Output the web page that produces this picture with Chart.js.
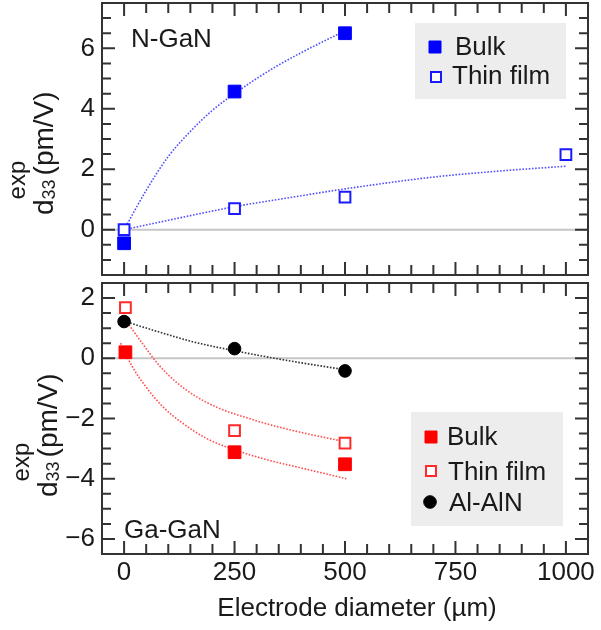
<!DOCTYPE html>
<html>
<head>
<meta charset="utf-8">
<script src="https://cdn.jsdelivr.net/npm/chart.js@4.4.1/dist/chart.umd.min.js"></script>
<style>
  body { margin: 0; background: #fff; }
  #wrap { position: relative; width: 601px; height: 630px; overflow: hidden; }
  #topChart { position: absolute; left: 0; top: 0; }
  #bottomChart { position: absolute; left: 0; top: 280px; }
</style>
</head>
<body>
<div id="wrap">
  <canvas id="topChart" width="601" height="280"></canvas>
  <canvas id="bottomChart" width="601" height="350"></canvas>
</div>
<script>
// axis ticks
const xTickLabels = [0, 250, 500, 750, 1000];
const nganYTicks = [0, 2, 4, 6];
const gaganYTicks = [-6, -4, -2, 0, 2];

// N-GaN (top panel)
const nganBulkX = [0, 250, 500];
const nganBulkY = [-0.45, 4.57, 6.5];
const nganFilmX = [0, 250, 500, 1000];
const nganFilmY = [0, 0.7, 1.08, 2.48];
const nganBulkFitX = [0, 50, 100, 150, 200, 250, 300, 350, 400, 450, 500];
const nganBulkFitY = [0, 1.3, 2.42, 3.25, 3.95, 4.5, 5.0, 5.45, 5.85, 6.22, 6.58];
const nganFilmFitX = [0, 100, 250, 400, 500, 700, 850, 1000];
const nganFilmFitY = [0, 0.31, 0.76, 1.12, 1.35, 1.74, 1.94, 2.1];

// Ga-GaN / Al-AlN (bottom panel)
const gaganBulkX = [3, 250, 500];
const gaganBulkY = [0.2, -3.12, -3.52];
const gaganFilmX = [3, 250, 500];
const gaganFilmY = [1.68, -2.4, -2.82];
const alnX = [0, 250, 500];
const alnY = [1.22, 0.32, -0.42];
const gaganBulkFitX = [-8, 19, 49, 87, 132, 185, 238, 321, 397, 503];
const gaganBulkFitY = [0.5, -0.29, -0.94, -1.6, -2.15, -2.65, -2.98, -3.36, -3.63, -4.0];
const gaganFilmFitX = [7, 42, 79, 117, 163, 215, 283, 321, 397, 503];
const gaganFilmFitY = [1.2, 0.48, -0.23, -0.78, -1.27, -1.66, -2.0, -2.17, -2.45, -2.78];
const alnFitX = [0, 80, 155, 250, 380, 500];
const alnFitY = [1.23, 0.87, 0.55, 0.25, -0.1, -0.38];

const FONT = "'Liberation Sans', Arial, Helvetica, sans-serif";
const INK = "#1a1a1a";

Chart.defaults.font.family = FONT;
Chart.defaults.color = INK;

function pairs(xs, ys) {
  return xs.map((x, i) => ({ x: x, y: ys[i] }));
}

function minusSign(v) {
  return String(v).replace("-", "\u2212");
}

function markerSet(label, xs, ys, style) {
  return {
    label: label,
    data: pairs(xs, ys),
    showLine: false,
    pointBorderWidth: style.open ? 2 : 1,
    pointBackgroundColor: style.open ? "#ffffff" : style.color,
    pointBorderColor: style.color,
    pointStyle: style.shape,
    pointRadius: style.radius
  };
}

function fitSet(xs, ys, color) {
  return {
    data: pairs(xs, ys),
    showLine: true,
    borderColor: color,
    borderWidth: 1.6,
    borderDash: [1.6, 1.6],
    pointRadius: 0,
    fill: false,
    cubicInterpolationMode: "monotone"
  };
}

// keep tick labels from shrinking the plot box
function noMargins(s) {
  s.paddingTop = 0;
  s.paddingBottom = 0;
  s.paddingLeft = 0;
  s.paddingRight = 0;
}

// frame, inward ticks, zero line, labels, legend
const panelDecor = {
  id: "panelDecor",
  beforeDatasetsDraw(chart) {
    const { ctx, chartArea: a, scales } = chart;
    const y0 = scales.y.getPixelForValue(0);
    ctx.save();
    ctx.strokeStyle = "#c6c6c6";
    ctx.lineWidth = 2;
    ctx.beginPath();
    ctx.moveTo(a.left, y0);
    ctx.lineTo(a.right, y0);
    ctx.stroke();
    ctx.restore();
  },
  afterDatasetsDraw(chart, args, opts) {
    const { ctx, chartArea: a, scales } = chart;
    ctx.save();
    ctx.strokeStyle = "#333";
    ctx.lineWidth = 2;
    ctx.strokeRect(a.left, a.top, a.right - a.left, a.bottom - a.top);

    ctx.beginPath();
    for (let v = 0; v <= 1000; v += 50) {
      const px = scales.x.getPixelForValue(v);
      const len = v % 250 === 0 ? 13 : 10;
      ctx.moveTo(px, a.top); ctx.lineTo(px, a.top + len);
      ctx.moveTo(px, a.bottom); ctx.lineTo(px, a.bottom - len);
    }
    for (let v = scales.y.min + 0.5; v < scales.y.max; v += 0.5) {
      const py = scales.y.getPixelForValue(v);
      const len = v % 2 === 0 ? 13 : 9;
      ctx.moveTo(a.left, py); ctx.lineTo(a.left + len, py);
      ctx.moveTo(a.right, py); ctx.lineTo(a.right - len, py);
    }
    ctx.stroke();

    // panel label
    ctx.fillStyle = INK;
    ctx.font = "26px " + FONT;
    ctx.textBaseline = "alphabetic";
    ctx.textAlign = "left";
    ctx.fillText(opts.panel.text, opts.panel.x, opts.panel.y);

    // y title: d_33^exp (pm/V), rotated
    const t = opts.ytitle;
    ctx.translate(t.x, t.y);
    ctx.rotate(-Math.PI / 2);
    ctx.font = "28px " + FONT;
    ctx.fillText("d", 0, 0);
    const wd = ctx.measureText("d").width;
    ctx.font = "18px " + FONT;
    ctx.fillText("33", wd, 2);
    const w33 = ctx.measureText("33").width;
    ctx.font = "24px " + FONT;
    ctx.fillText("exp", wd, -28);
    ctx.font = "28px " + FONT;
    ctx.fillText("(pm/V)", wd + w33 + 4, 0);
    ctx.setTransform(1, 0, 0, 1, 0, 0);

    // legend
    const L = opts.legend;
    ctx.fillStyle = "#ededed";
    ctx.fillRect(L.box[0], L.box[1], L.box[2], L.box[3]);
    L.items.forEach(item => {
      const ds = chart.data.datasets[item.dataset];
      ctx.fillStyle = ds.pointBackgroundColor;
      ctx.strokeStyle = ds.pointBorderColor;
      ctx.lineWidth = ds.pointBorderWidth;
      ctx.beginPath();
      if (ds.pointStyle === "circle") {
        ctx.arc(item.mx, item.my, 6.3, 0, Math.PI * 2);
      } else {
        const s = ds.pointBorderWidth > 1 ? 5 : 6;
        ctx.rect(item.mx - s, item.my - s, 2 * s, 2 * s);
      }
      ctx.fill();
      ctx.stroke();
      ctx.fillStyle = INK;
      ctx.font = "26px " + FONT;
      ctx.fillText(ds.label, item.tx, item.ty);
    });

    // x title
    if (opts.xtitle) {
      ctx.textAlign = "center";
      ctx.fillText("Electrode diameter (\u00b5m)", opts.xtitle.x, opts.xtitle.y);
    }
    ctx.restore();
  }
};

function makeOptions(yMin, yMax, yTicks, showX, decor) {
  return {
    responsive: false,
    animation: false,
    devicePixelRatio: 1,
    layout: { autoPadding: false, padding: { left: 0, right: 13, top: 3, bottom: 0 } },
    plugins: {
      legend: { display: false },
      tooltip: { enabled: false },
      panelDecor: decor
    },
    scales: {
      x: {
        type: "linear",
        min: -50,
        max: 1050,
        grid: { display: false, drawTicks: false },
        border: { display: false },
        afterBuildTicks: s => { s.ticks = xTickLabels.map(v => ({ value: v })); },
        afterFit: s => { s.height = showX ? 76 : 5; noMargins(s); },
        ticks: { display: showX, padding: 3, font: { size: 26 }, color: INK, maxRotation: 0, callback: v => String(v) }
      },
      y: {
        type: "linear",
        min: yMin,
        max: yMax,
        grid: { display: false, drawTicks: false },
        border: { display: false },
        afterBuildTicks: s => { s.ticks = yTicks.map(v => ({ value: v })); },
        afterFit: s => { s.width = 102; noMargins(s); },
        ticks: { padding: 7, font: { size: 26 }, color: INK, callback: v => minusSign(v) }
      }
    }
  };
}

new Chart(document.getElementById("topChart"), {
  type: "line",
  data: {
    datasets: [
      markerSet("Bulk", nganBulkX, nganBulkY, { color: "#0000ff", shape: "rect", radius: 9 }),
      markerSet("Thin film", nganFilmX, nganFilmY, { color: "#1a1aff", shape: "rect", radius: 7.6, open: true }),
      fitSet(nganBulkFitX, nganBulkFitY, "#5050ff"),
      fitSet(nganFilmFitX, nganFilmFitY, "#5050ff")
    ]
  },
  options: makeOptions(-1.5, 7.5, nganYTicks, false, {
    panel: { text: "N-GaN", x: 131, y: 47 },
    ytitle: { x: 53, y: 215 },
    legend: {
      box: [415, 23, 151, 76],
      items: [
        { dataset: 0, mx: 435, my: 47, tx: 455, ty: 55 },
        { dataset: 1, mx: 436, my: 77, tx: 452, ty: 84 }
      ]
    }
  }),
  plugins: [panelDecor]
});

new Chart(document.getElementById("bottomChart"), {
  type: "line",
  data: {
    datasets: [
      markerSet("Bulk", gaganBulkX, gaganBulkY, { color: "#ff0000", shape: "rect", radius: 9 }),
      markerSet("Thin film", gaganFilmX, gaganFilmY, { color: "#ff2a2a", shape: "rect", radius: 7.6, open: true }),
      markerSet("Al-AlN", alnX, alnY, { color: "#000000", shape: "circle", radius: 6.3 }),
      fitSet(gaganBulkFitX, gaganBulkFitY, "#ff5050"),
      fitSet(gaganFilmFitX, gaganFilmFitY, "#ff5050"),
      fitSet(alnFitX, alnFitY, "#333333")
    ]
  },
  options: makeOptions(-6.5, 2.5, gaganYTicks, true, {
    panel: { text: "Ga-GaN", x: 124, y: 258 },
    ytitle: { x: 57, y: 217 },
    legend: {
      box: [411, 132, 152, 114],
      items: [
        { dataset: 0, mx: 431, my: 157, tx: 447, ty: 165 },
        { dataset: 1, mx: 431, my: 191, tx: 448, ty: 200 },
        { dataset: 2, mx: 430, my: 222, tx: 449, ty: 231 }
      ]
    },
    xtitle: { x: 357, y: 336 }
  }),
  plugins: [panelDecor]
});
</script>
</body>
</html>
